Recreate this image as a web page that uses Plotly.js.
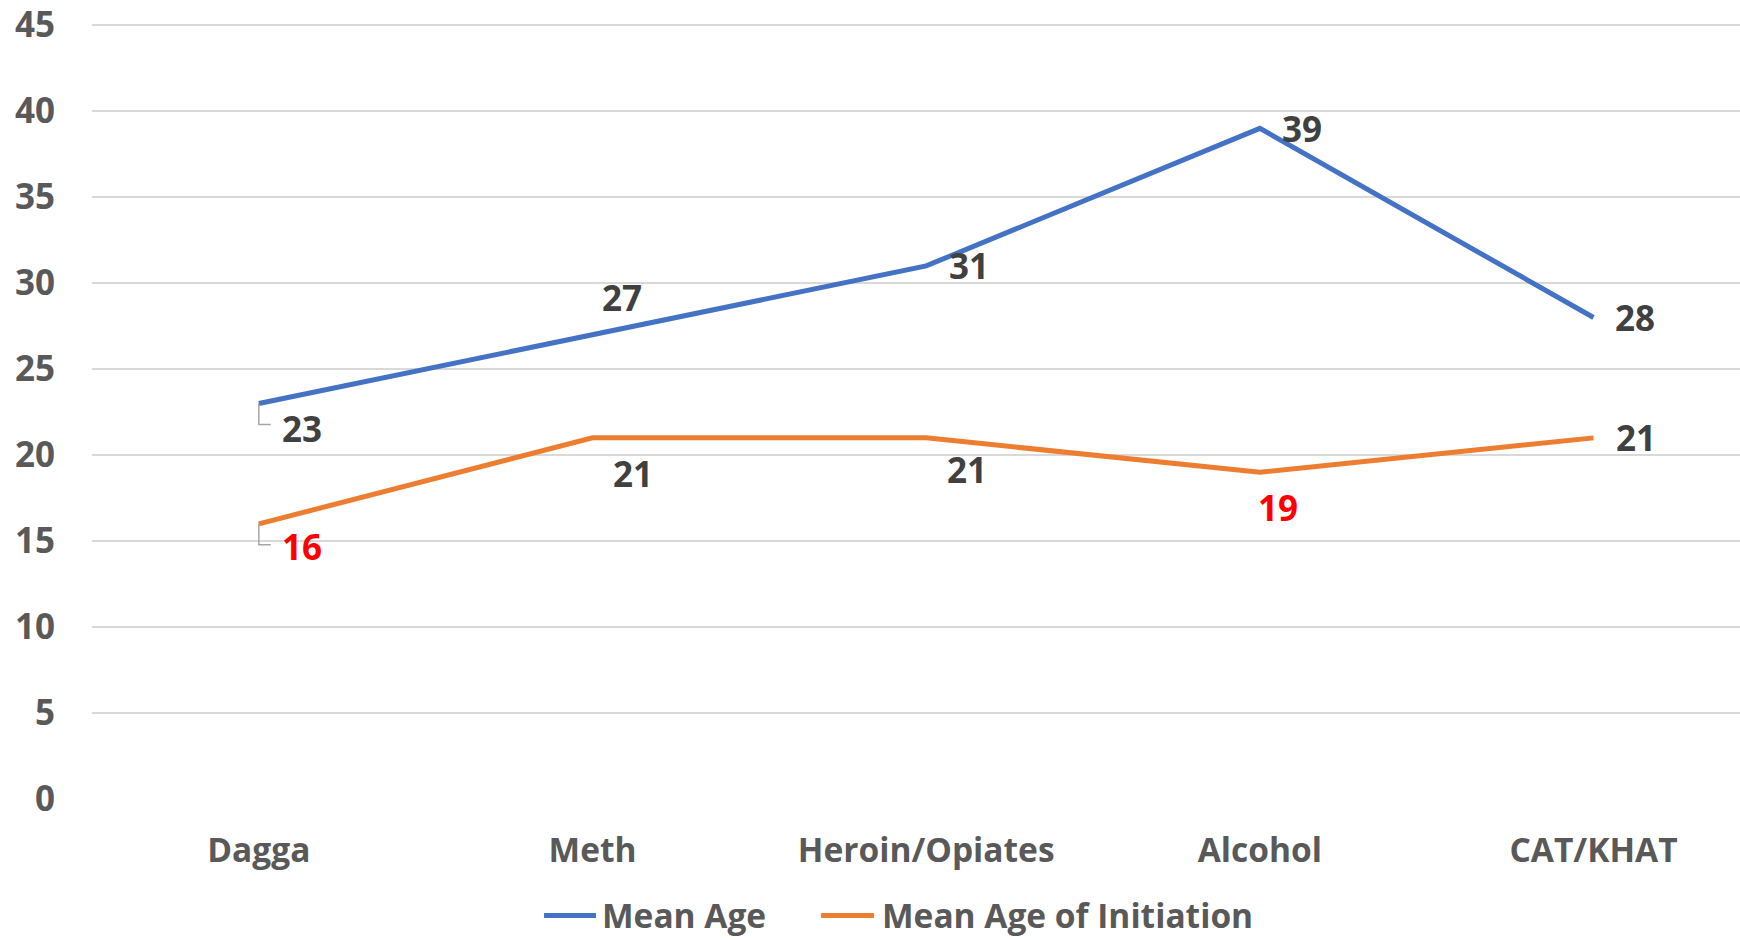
<!DOCTYPE html>
<html>
<head>
<meta charset="utf-8">
<script src="https://cdn.plot.ly/plotly-3.0.1.min.js"></script>
<style>html,body{margin:0;padding:0;background:#fff;}#chart{width:1740px;height:940px;}</style>
</head>
<body>
<div id="chart"></div>
<script>
const categories = ["Dagga", "Meth", "Heroin/Opiates", "Alcohol", "CAT/KHAT"];
const meanAge = [23, 27, 31, 39, 28];
const meanAgeInitiation = [16, 21, 21, 19, 21];
const seriesNames = ["Mean Age", "Mean Age of Initiation"];
const seriesColors = ["#4472C4", "#ED7D31"];
const yTicks = [0, 5, 10, 15, 20, 25, 30, 35, 40, 45];

// label placement (pixel offsets: dx right, dy down) and colours
const offsA = [[43, 25], [29, -37], [43, 0], [42, 0], [41, 0]];
const offsB = [[43, 23], [40, 36], [41, 32], [18, 35], [42, 0]];
const colA = ["#404040", "#404040", "#404040", "#404040", "#404040"];
const colB = ["#FF0000", "#404040", "#404040", "#FF0000", "#404040"];
// manual legend placement (paper coords): [lineStart, lineEnd, textStart]
const legendPos = [[0.2743, 0.3058, 0.3083], [0.4423, 0.4745, 0.4782]];
const legendY = -0.1494;

const FONT = "Open Sans, sans-serif";
const xIdx = categories.map((c, i) => i);

const traces = [
  {x: xIdx, y: meanAge, name: seriesNames[0], type: "scatter", mode: "lines",
   line: {color: seriesColors[0], width: 5}},
  {x: xIdx, y: meanAgeInitiation, name: seriesNames[1], type: "scatter", mode: "lines",
   line: {color: seriesColors[1], width: 5}}
];

const annotations = [];
function addLabels(vals, offs, cols) {
  vals.forEach((v, i) => {
    annotations.push({x: i, y: v, xref: "x", yref: "y", text: String(v), showarrow: false,
      xshift: offs[i][0], yshift: -offs[i][1],
      font: {family: FONT, size: 35, weight: 700, color: cols[i]}});
  });
}
addLabels(meanAge, offsA, colA);
addLabels(meanAgeInitiation, offsB, colB);

const shapes = [meanAge[0], meanAgeInitiation[0]].map(v => ({
  type: "path", xref: "x", yref: "y", xsizemode: "pixel", ysizemode: "pixel",
  xanchor: 0, yanchor: v, path: "M0,0 V-21 H12",
  line: {color: "#A6A6A6", width: 1.5}
}));

seriesNames.forEach((name, i) => {
  shapes.push({type: "line", xref: "paper", yref: "paper",
    x0: legendPos[i][0], x1: legendPos[i][1], y0: legendY, y1: legendY,
    line: {color: seriesColors[i], width: 5}});
  annotations.push({xref: "paper", yref: "paper", x: legendPos[i][2], y: legendY,
    xanchor: "left", yanchor: "middle", text: name, showarrow: false,
    font: {family: FONT, size: 33.5, weight: 700, color: "#595959"}});
});

const layout = {
  width: 1740, height: 940,
  margin: {l: 92, r: 0, t: 19.5, b: 140.5},
  paper_bgcolor: "#ffffff", plot_bgcolor: "#ffffff",
  showlegend: false,
  xaxis: {range: [-0.5, 4.439], tickvals: xIdx, ticktext: categories, showgrid: false, zeroline: false,
    showline: false, ticks: "", ticklabelstandoff: 28,
    tickfont: {family: FONT, size: 33.5, weight: 700, color: "#595959"}},
  yaxis: {range: [0, 45.3], tickvals: yTicks, showgrid: true, gridcolor: "#D9D9D9", gridwidth: 2,
    zeroline: false, showline: false, ticks: "", ticklabelstandoff: 36, ticklabeloverflow: "allow",
    tickfont: {family: FONT, size: 35, weight: 700, color: "#595959"}},
  annotations: annotations,
  shapes: shapes
};

Plotly.newPlot("chart", traces, layout, {displayModeBar: false, staticPlot: true});
</script>
</body>
</html>
